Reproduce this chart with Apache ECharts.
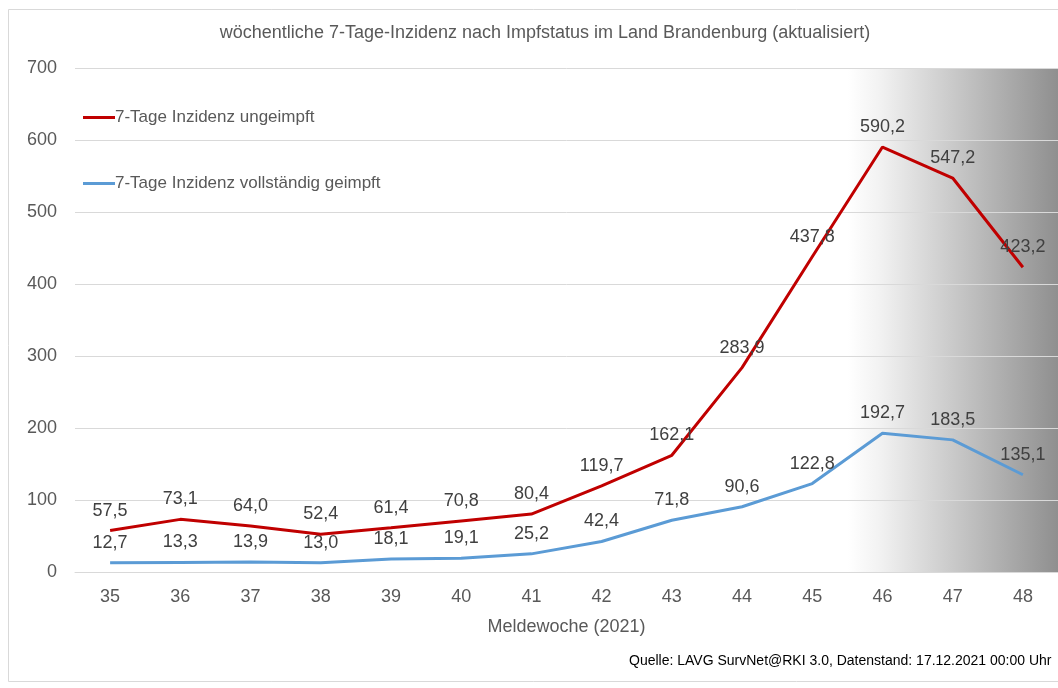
<!DOCTYPE html>
<html>
<head>
<meta charset="utf-8">
<script src="https://cdn.jsdelivr.net/npm/echarts@6/dist/echarts.min.js"></script>
<style>
html,body{margin:0;padding:0;background:#fff;}
#chart{width:1058px;height:688px;}
</style>
</head>
<body>
<div id="chart"></div>
<script>
const weeks = ['35','36','37','38','39','40','41','42','43','44','45','46','47','48'];
const ungeimpft = [57.5, 73.1, 64.0, 52.4, 61.4, 70.8, 80.4, 119.7, 162.1, 283.9, 437.8, 590.2, 547.2, 423.2];
const geimpft = [12.7, 13.3, 13.9, 13.0, 18.1, 19.1, 25.2, 42.4, 71.8, 90.6, 122.8, 192.7, 183.5, 135.1];
const seriesNames = ['7-Tage Inzidenz ungeimpft', '7-Tage Inzidenz vollständig geimpft'];
const titleText = 'wöchentliche 7-Tage-Inzidenz nach Impfstatus im Land Brandenburg (aktualisiert)';
const xName = 'Meldewoche (2021)';
const sourceText = 'Quelle: LAVG SurvNet@RKI 3.0, Datenstand: 17.12.2021 00:00 Uhr';

const FONT = '"Liberation Sans", Arial, sans-serif';
const fmt = v => Number(v).toFixed(1).replace('.', ',');

const chart = echarts.init(document.getElementById('chart'), null, {renderer: 'canvas'});
const labelCfg = {
  show: true, position: 'top', distance: 11,
  color: '#404040', fontFamily: FONT, fontSize: 18,
  formatter: p => fmt(p.value)
};
chart.setOption({
  backgroundColor: '#ffffff',
  animation: false,
  title: {
    text: titleText, left: 540, top: 19, textAlign: 'center',
    textStyle: {color: '#595959', fontFamily: FONT, fontSize: 18, fontWeight: 'normal'}
  },
  legend: {
    orient: 'vertical', left: 78, top: 104, itemGap: 49,
    itemWidth: 32, itemHeight: 3, icon: 'rect',
    textStyle: {color: '#595959', fontFamily: FONT, fontSize: 17, padding: [0,0,0,-5]},
    data: seriesNames
  },
  grid: {left: 75, top: 68, width: 994, bottom: 116, containLabel: false},
  xAxis: {
    type: 'category', data: weeks, boundaryGap: true,
    axisLine: {show: true, lineStyle: {color: '#d9d9d9', width: 1}},
    axisTick: {show: false},
    axisLabel: {color: '#595959', fontFamily: FONT, fontSize: 18, margin: 16},
    name: xName, nameLocation: 'middle', nameGap: 46,
    nameTextStyle: {color: '#595959', fontFamily: FONT, fontSize: 18}
  },
  yAxis: {
    type: 'value', min: 0, max: 700, interval: 100,
    axisLine: {show: false}, axisTick: {show: false},
    axisLabel: {color: '#595959', fontFamily: FONT, fontSize: 18, margin: 18},
    splitLine: {lineStyle: {color: '#d9d9d9', width: 1}}
  },
  graphic: [
    {type: 'rect', z: -10, silent: true,
     shape: {x: 848, y: 68, width: 210, height: 504},
     style: {fill: new echarts.graphic.LinearGradient(0, 0, 1, 0, [
       {offset: 0, color: 'rgba(255,255,255,1)'},
       {offset: 0.15, color: '#f2f2f2'},
       {offset: 1, color: '#8f8f8f'}
     ])}},
    {type: 'rect', z: 10, silent: true,
     shape: {x: 8.5, y: 9.5, width: 1060, height: 672},
     style: {fill: 'none', stroke: '#d9d9d9', lineWidth: 1}},
    {type: 'text', x: 629, y: 654, silent: true,
     style: {text: sourceText, fill: '#000000', font: '14px ' + FONT}}
  ],
  series: [
    {name: seriesNames[0], type: 'line', data: ungeimpft,
     symbol: 'circle', symbolSize: 0, showSymbol: true,
     lineStyle: {color: '#C00000', width: 3}, itemStyle: {color: '#C00000'},
     label: labelCfg, z: 3},
    {name: seriesNames[1], type: 'line', data: geimpft,
     symbol: 'circle', symbolSize: 0, showSymbol: true,
     lineStyle: {color: '#5B9BD5', width: 3}, itemStyle: {color: '#5B9BD5'},
     label: labelCfg, z: 2}
  ]
});
</script>
</body>
</html>
